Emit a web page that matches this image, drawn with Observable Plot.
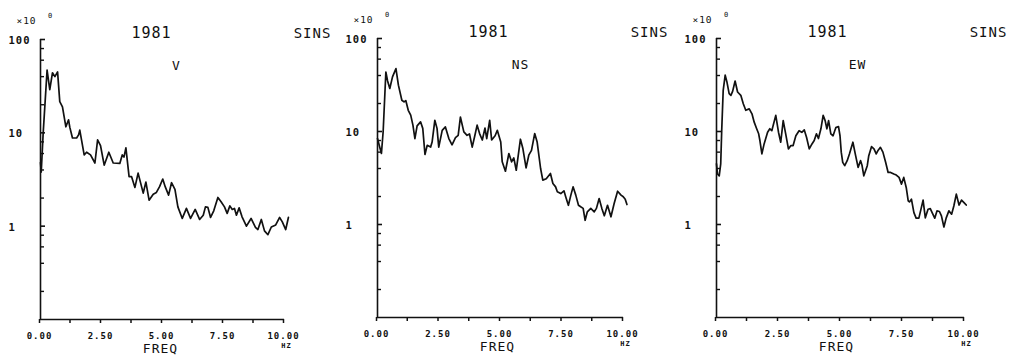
<!DOCTYPE html>
<html><head><meta charset="utf-8">
<script src="https://cdn.jsdelivr.net/npm/d3@7"></script>
<script src="https://cdn.jsdelivr.net/npm/@observablehq/plot@0.6"></script>
<style>
body{margin:0;background:#fff;}
#wrap{position:relative;width:1013px;height:356px;overflow:hidden;background:#fff;}
.panel{position:absolute;top:0;}
</style></head><body><div id="wrap"></div>
<script>
// ---- data ----
const year = "1981";
const station = "SINS";
const components = ["V", "NS", "EW"];
const xTickValues = [0, 1.25, 2.5, 3.75, 5, 6.25, 7.5, 8.75, 10];
const xTickLabels = ["0.00", "", "2.50", "", "5.00", "", "7.50", "", "10.00"];
const yTickValues = [1, 10, 100];
const yTickLabels = ["1", "10", "100"];
const yMinorTicks = [0.2, 0.4, 0.6, 0.8, 2, 4, 6, 8, 20, 40, 60, 80];

const vFreq = [0.00,0.03,0.11,0.27,0.38,0.49,0.59,0.70,0.79,0.90,1.04,1.15,1.20,1.31,1.48,1.56,1.61,1.79,1.89,2.05,2.23,2.34,2.46,2.61,2.80,2.98,3.25,3.35,3.42,3.50,3.63,3.73,3.87,4.00,4.21,4.32,4.45,4.62,4.75,4.88,5.01,5.11,5.25,5.37,5.51,5.63,5.81,5.98,6.15,6.34,6.52,6.67,6.76,6.86,6.97,7.10,7.27,7.40,7.54,7.65,7.76,7.86,7.95,8.03,8.14,8.26,8.44,8.63,8.81,8.91,9.05,9.18,9.32,9.46,9.64,9.80,9.91,10.05,10.16];
const vAmp  = [4.8,3.8,10,47,29,44,40,45,21.6,19,11.6,13.8,11.5,8.8,8.8,9.5,10.7,5.8,6.2,5.8,4.75,8.4,7.3,4.5,6.2,4.75,4.7,5.8,5.5,6.9,3.4,3.4,2.6,3.7,2.26,2.97,1.9,2.2,2.3,2.65,3.2,2.65,2.15,2.92,2.48,1.61,1.21,1.55,1.21,1.51,1.18,1.31,1.61,1.59,1.24,1.46,2.03,1.83,1.61,1.37,1.65,1.51,1.55,1.31,1.57,1.26,1.0,1.21,0.97,0.92,1.18,0.89,0.81,0.98,1.03,1.24,1.11,0.92,1.24];

const nsFreq = [0.00,0.07,0.16,0.23,0.34,0.41,0.50,0.61,0.75,0.85,0.99,1.08,1.15,1.25,1.35,1.44,1.52,1.61,1.75,1.84,1.93,2.02,2.16,2.22,2.33,2.42,2.49,2.63,2.76,2.90,3.03,3.17,3.28,3.37,3.51,3.64,3.74,3.85,3.96,4.05,4.15,4.26,4.37,4.44,4.56,4.64,4.78,4.87,5.01,5.07,5.20,5.34,5.45,5.54,5.64,5.81,5.91,6.04,6.15,6.26,6.39,6.49,6.63,6.72,6.86,7.03,7.13,7.24,7.31,7.45,7.58,7.65,7.76,7.86,7.95,8.06,8.17,8.26,8.36,8.44,8.53,8.67,8.81,8.90,9.01,9.12,9.22,9.35,9.49,9.62,9.76,9.90,9.99,10.07,10.14];
const nsAmp  = [8.4,7.1,5.8,10,43.6,35,29,38.7,47.5,31.5,21.7,20.8,21.5,16.9,15.0,11.7,8.4,11.5,12.7,10.8,5.66,7.1,6.8,7.7,13.2,10.8,6.8,10.3,11.2,8.4,7.2,8.6,9.1,14.3,9.9,9.1,9.4,6.8,9.1,11.7,9.5,8.1,10.9,8.4,13.2,8.1,9.0,10.3,7.7,4.72,3.74,5.8,4.72,5.2,3.83,8.26,6.56,4.07,5.56,6.28,9.5,7.7,4.0,3.0,3.1,3.54,2.76,2.54,2.25,2.15,2.3,1.99,1.61,2.07,2.54,2.07,1.61,1.55,1.49,1.11,1.37,1.49,1.37,1.49,1.90,1.49,1.24,1.61,1.21,1.68,2.28,2.07,1.99,1.87,1.64];

const ewFreq = [0.00,0.04,0.11,0.17,0.21,0.27,0.35,0.42,0.51,0.58,0.65,0.75,0.85,0.98,1.08,1.18,1.32,1.43,1.52,1.62,1.70,1.75,1.83,1.92,2.06,2.15,2.23,2.39,2.50,2.59,2.69,2.79,2.90,3.00,3.09,3.20,3.33,3.44,3.54,3.63,3.74,3.85,3.94,4.03,4.11,4.21,4.30,4.38,4.45,4.52,4.61,4.70,4.81,4.92,4.98,5.03,5.09,5.17,5.27,5.36,5.50,5.61,5.71,5.81,5.87,5.94,6.08,6.14,6.25,6.35,6.44,6.52,6.61,6.71,6.82,6.92,7.02,7.15,7.25,7.36,7.46,7.55,7.65,7.73,7.78,7.86,7.96,8.05,8.16,8.26,8.33,8.42,8.53,8.62,8.69,8.80,8.89,8.99,9.07,9.17,9.26,9.37,9.48,9.57,9.67,9.78,9.88,9.98,10.07];
const ewAmp  = [4.48,3.49,3.34,4.48,10.2,27.7,40.4,34.1,25.5,24.5,27,34.9,26.6,24.5,19.9,16.9,17.5,15.5,12.6,10.7,9.45,8.0,5.74,7.35,9.83,10.7,10.2,14.9,9.83,7.67,13.1,9.45,6.5,7.06,7.06,9.0,10.2,9.8,10.4,8.66,6.5,7.35,8.0,9.45,8.4,10.7,14.9,13.1,10.7,13.1,9.45,9.0,11.0,11.3,9.0,6.0,4.66,4.29,4.86,5.74,7.67,5.5,4.11,4.86,4.3,3.34,4.29,5.5,6.87,6.5,5.74,6.3,6.76,6.0,4.66,3.63,3.63,3.49,3.4,3.21,2.72,3.21,2.50,1.80,1.75,1.87,1.34,1.17,1.17,1.52,1.83,1.18,1.46,1.48,1.35,1.17,1.40,1.38,1.24,0.94,1.17,1.40,1.29,1.58,2.12,1.62,1.83,1.72,1.62];

const series = [[vFreq, vAmp], [nsFreq, nsAmp], [ewFreq, ewAmp]];
// ---- layout ----
const panelLeft = [0, 337, 676];
const panelPlotWidth = [244, 246, 248];
const panelTop = [39, 38, 38];
const panelBottom = [37, 39, 39];
const compDx = [136, 143, 141];

const ink = "#111";
function panel(i) {
  const [freq, amp] = series[i];
  const data = freq.map((f, k) => ({f, a: amp[k]}));
  const pw = panelPlotWidth[i];
  const W = 337;
  const txt = (s, o) => Plot.text([s], {text: d => d, fill: ink, ...o});
  return Plot.plot({
    width: W, height: 356,
    marginLeft: 40, marginRight: W - 40 - pw,
    marginTop: panelTop[i], marginBottom: panelBottom[i],
    style: {fontFamily: "'DejaVu Sans Mono', monospace", color: ink, background: "transparent", overflow: "visible", letterSpacing: "1px"},
    x: {domain: [0, 10]},
    y: {type: "log", domain: [0.1, 100]},
    marks: [
      Plot.axisX({ticks: xTickValues, tickSize: 4, tickPadding: 9, strokeWidth: 1.5,
        tickFormat: d => xTickLabels[xTickValues.indexOf(d)], fontSize: 9, fontWeight: "bold", dx: -1, label: null}),
      Plot.axisY({ticks: yTickValues, tickSize: 0, tickPadding: 0,
        tickFormat: d => yTickLabels[yTickValues.indexOf(d)], textAnchor: "start", dx: -32, dy: 1,
        fontSize: 10.5, fontWeight: "bold", label: null}),
      Plot.tickY(yTickValues, {y: d => d, insetRight: pw - 5, strokeWidth: 1.6, stroke: ink}),
      Plot.tickY(yMinorTicks, {y: d => d, insetRight: pw - 4, strokeWidth: 1.4, stroke: ink}),
      Plot.ruleX([0], {strokeWidth: 1.6, stroke: ink}),
      Plot.ruleY([0.1], {strokeWidth: 1.6, stroke: ink}),
      Plot.line(data, {x: "f", y: "a", stroke: ink, strokeWidth: 1.7}),
      txt("\u00d710", {frameAnchor: "top-left", dx: -14, dy: -19, textAnchor: "middle", lineAnchor: "middle", fontSize: 9.5}),
      txt("0", {frameAnchor: "top-left", dx: 10, dy: -24, textAnchor: "middle", lineAnchor: "middle", fontSize: 7}),
      txt(year, {frameAnchor: "top-left", dx: 111, dy: -6, textAnchor: "middle", lineAnchor: "middle", fontSize: 15}),
      txt(station, {frameAnchor: "top-left", dx: 272, dy: -6, textAnchor: "middle", lineAnchor: "middle", fontSize: 14}),
      txt(components[i], {frameAnchor: "top-left", dx: compDx[i], dy: 26, textAnchor: "middle", lineAnchor: "middle", fontSize: 13}),
      txt("FREQ", {frameAnchor: "bottom-left", dx: 120, dy: 29, textAnchor: "middle", lineAnchor: "middle", fontSize: 13}),
      txt("HZ", {frameAnchor: "bottom-left", dx: pw + 2, dy: 26, textAnchor: "middle", lineAnchor: "middle", fontSize: 7, fontWeight: "bold"})
    ]
  });
}
const wrap = document.getElementById("wrap");
for (let i = 0; i < 3; i++) {
  const d = document.createElement("div");
  d.className = "panel";
  d.style.left = panelLeft[i] + "px";
  d.appendChild(panel(i));
  wrap.appendChild(d);
}
</script></body></html>
